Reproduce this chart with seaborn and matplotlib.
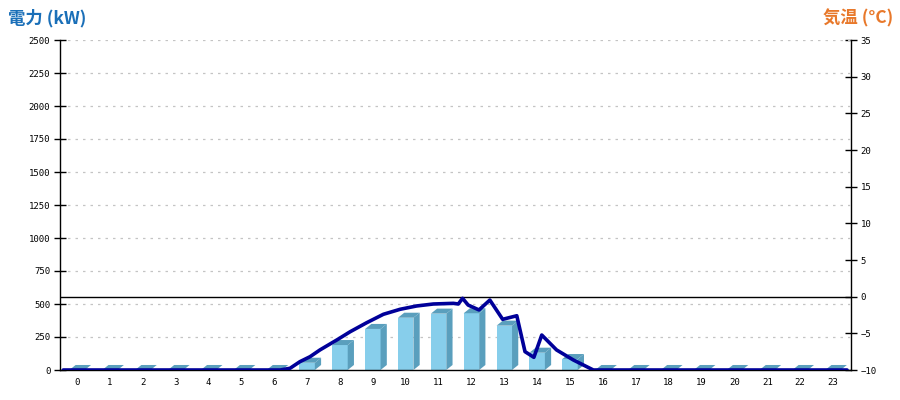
import numpy as np
import pandas as pd
import matplotlib
matplotlib.use("Agg")
import matplotlib.pyplot as plt
from matplotlib.patches import Polygon
import seaborn as sns

# hourly power (kW) -> bars
hours = list(range(24))
power_kw = [0, 0, 0, 0, 0, 0, 0, 55, 189, 311, 396, 427, 430, 336, 131, 83,
            0, 0, 0, 0, 0, 0, 0, 0]

# fine-grained power curve (axis position in hours, kW)
line_t = [-0.42, 6.18, 6.48, 6.78, 7.09, 7.39, 7.90, 8.31, 8.81, 9.32, 9.83,
          10.33, 10.84, 11.45, 11.60, 11.73, 11.90, 12.23, 12.56, 12.95,
          13.38, 13.63, 13.90, 14.14, 14.59, 15.10, 15.71, 23.43]
line_kw = [0, 0, 13, 63, 101, 152, 227, 290, 358, 422, 460, 485, 500, 505,
           500, 543, 492, 455, 530, 384, 411, 139, 96, 265, 152, 76, 0, 0]

sns.set_style("white")
plt.rcParams['font.family'] = ['Noto Sans CJK JP', 'DejaVu Sans']

fig = plt.figure(figsize=(9, 4), dpi=100)
ax = fig.add_axes([60 / 900, 30 / 400, 791 / 900, 330 / 400])
ax2 = ax.twinx()
ax.set_zorder(ax2.get_zorder() + 1)
ax.patch.set_visible(False)

bars = pd.DataFrame({"hour": hours, "kw": power_kw})
front = "#87CEEB"
shade = "#5A9FBD"
bw = 0.47
sns.barplot(data=bars, x="hour", y="kw", native_scale=True, width=bw,
            color=front, saturation=1, linewidth=0, ax=ax, zorder=2)

# 3D faces (top + side) for each bar
dx, dy = 0.19, 38
for h, v in zip(hours, power_kw):
    x0, x1 = h - bw / 2, h + bw / 2
    top = Polygon([(x0, v), (x1, v), (x1 + dx, v + dy), (x0 + dx, v + dy)],
                  closed=True, facecolor=shade, edgecolor="none", zorder=2)
    ax.add_patch(top)
    if v > 0:
        side = Polygon([(x1, 0), (x1 + dx, dy), (x1 + dx, v + dy), (x1, v)],
                       closed=True, facecolor=shade, edgecolor="none", zorder=2)
        ax.add_patch(side)

sns.lineplot(x=line_t, y=line_kw, color="#000099", linewidth=2.6, ax=ax,
             zorder=5)

ax.set_xlim(-0.52, 23.55)
ax.set_ylim(0, 2500)
ax.set_xticks(hours)
ax.set_xticklabels([str(h) for h in hours])
ax.set_yticks(range(0, 2501, 250))
ax.set_xlabel("")
ax.set_ylabel("")
for y in range(250, 2501, 250):
    ax.axhline(y, color="#c4c4c4", lw=0.9, ls=(0, (2, 4)), zorder=0)

for s in ["top", "right"]:
    ax.spines[s].set_visible(False)
for s in ["left", "bottom"]:
    ax.spines[s].set_color("black")
    ax.spines[s].set_linewidth(1)
ax.tick_params(axis="x", length=0, pad=6, labelsize=6.5, labelcolor="black")
ax.tick_params(axis="y", direction="inout", length=8, width=1, pad=3,
               labelsize=6.5, color="black", labelcolor="black")
for lab in ax.get_xticklabels() + ax.get_yticklabels():
    lab.set_family("DejaVu Sans Mono")

ax2.set_ylim(-10, 35)
ax2.set_yticks(range(-10, 36, 5))
ax2.axhline(0, color="black", lw=1, zorder=1)
for s in ["top", "left", "bottom"]:
    ax2.spines[s].set_visible(False)
ax2.spines["right"].set_color("black")
ax2.spines["right"].set_linewidth(1)
ax2.tick_params(axis="y", direction="inout", length=8, width=1, pad=3,
                labelsize=6.5, color="black", labelcolor="black")
for lab in ax2.get_yticklabels():
    lab.set_family("DejaVu Sans Mono")

fig.text(8 / 900, 1 - 18 / 400, "電力 (kW)", color="#1a6fb8", fontsize=12.5,
         fontweight="bold", va="center", ha="left")
fig.text(893 / 900, 1 - 18 / 400, "気温 (°C)", color="#e8782a", fontsize=12.5,
         fontweight="bold", va="center", ha="right")

fig.savefig("out.png", dpi=100)
